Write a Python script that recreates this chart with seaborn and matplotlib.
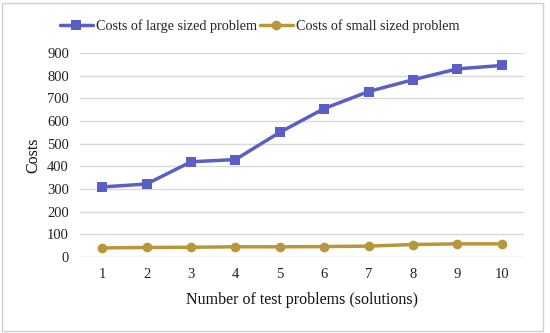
import matplotlib
matplotlib.use("Agg")
import matplotlib.pyplot as plt
import seaborn as sns
import pandas as pd

problems = list(range(1, 11))
large_costs = [309, 322, 420, 430, 550, 655, 730, 782, 830, 845]
small_costs = [40, 42, 43, 45, 45, 46, 48, 55, 58, 58]
yticks = [0, 100, 200, 300, 400, 500, 600, 700, 800, 900]

df = pd.DataFrame({
    "problem": problems * 2,
    "cost": large_costs + small_costs,
    "series": ["Costs of large sized problem"] * 10 + ["Costs of small sized problem"] * 10,
})

sns.set_style("white")
plt.rcParams["font.family"] = ["Liberation Serif", "DejaVu Serif"]

fig = plt.figure(figsize=(5.5, 3.33), dpi=100)
ax = fig.add_axes([80 / 550, 1 - 257 / 333, 444 / 550, 204 / 333])

palette = {"Costs of large sized problem": "#5A5FC8", "Costs of small sized problem": "#B8963A"}
markers = {"Costs of large sized problem": "s", "Costs of small sized problem": "o"}
sns.lineplot(data=df, x="problem", y="cost", hue="series", style="series",
             palette=palette, markers=markers, dashes=False, linewidth=2.5,
             markersize=7, markeredgewidth=0, ax=ax)

ax.set_xlim(0.5, 10.5)
ax.set_ylim(0, 900)
ax.set_xticks(problems)
ax.set_yticks(yticks)
ax.yaxis.grid(True, color="#d9d9d9", linewidth=1)
ax.set_axisbelow(True)
for s in ax.spines.values():
    s.set_visible(False)
ax.tick_params(axis="both", length=0, labelsize=10.5, colors="#222222", pad=8)
ax.set_xlabel("Number of test problems (solutions)", fontsize=11.5, color="#111111", labelpad=8)
ax.set_ylabel("Costs", fontsize=11.5, color="#111111", labelpad=4)

leg = ax.legend(loc="upper center", bbox_to_anchor=(0.405, 1.23), ncol=2, frameon=False,
                fontsize=10.2, handlelength=2.3, columnspacing=0.2, handletextpad=0.25)

fig.patches.append(plt.Rectangle((0.003, 0.005), 0.985, 0.985, transform=fig.transFigure,
                                 fill=False, edgecolor="#d0d0d0", linewidth=1))
fig.savefig("out.png", dpi=100)
